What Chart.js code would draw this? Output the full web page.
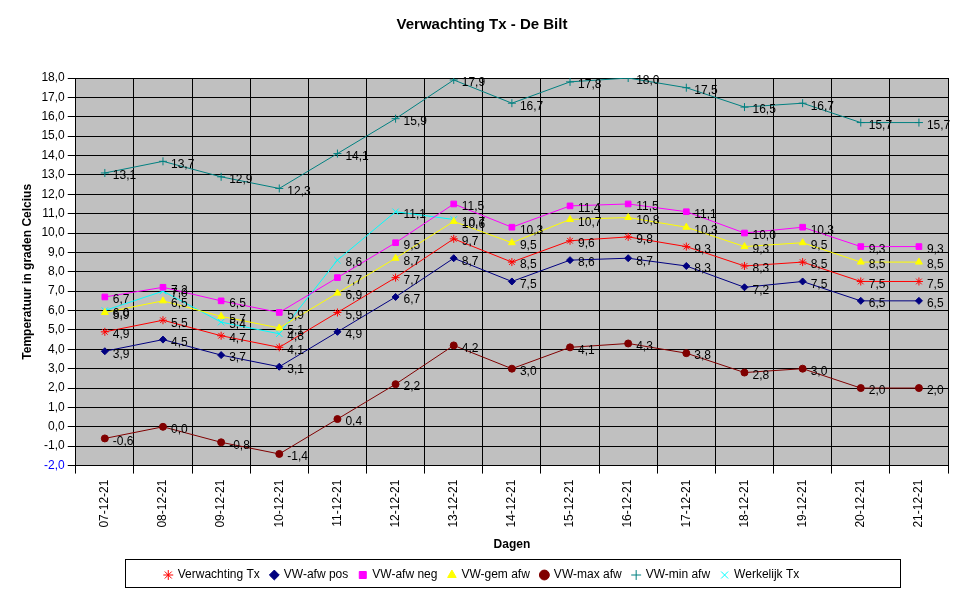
<!DOCTYPE html>
<html><head><meta charset="utf-8">
<script src="https://cdn.jsdelivr.net/npm/chart.js@4"></script>
<style>body{margin:0;background:#fff}#wrap{width:976px;height:599px}</style>
</head><body><div id="wrap"><canvas id="c"></canvas></div>
<script>
const dagen = ["07-12-21","08-12-21","09-12-21","10-12-21","11-12-21","12-12-21","13-12-21","14-12-21","15-12-21","16-12-21","17-12-21","18-12-21","19-12-21","20-12-21","21-12-21"];
const verwachting = [4.9,5.5,4.7,4.1,5.9,7.7,9.7,8.5,9.6,9.8,9.3,8.3,8.5,7.5,7.5];
const afwPos = [3.9,4.5,3.7,3.1,4.9,6.7,8.7,7.5,8.6,8.7,8.3,7.2,7.5,6.5,6.5];
const afwNeg = [6.7,7.2,6.5,5.9,7.7,9.5,11.5,10.3,11.4,11.5,11.1,10.0,10.3,9.3,9.3];
const gemAfw = [5.9,6.5,5.7,5.1,6.9,8.7,10.6,9.5,10.7,10.8,10.3,9.3,9.5,8.5,8.5];
const maxAfw = [-0.6,0.0,-0.8,-1.4,0.4,2.2,4.2,3.0,4.1,4.3,3.8,2.8,3.0,2.0,2.0];
const minAfw = [13.1,13.7,12.9,12.3,14.1,15.9,17.9,16.7,17.8,18.0,17.5,16.5,16.7,15.7,15.7];
const werkelijk = [6.0,7.0,5.4,4.8,8.6,11.1,10.7,null,null,null,null,null,null,null,null];

const fmt = v => v.toFixed(1).replace('.', ',');
const ds = (label, data, color, style, r) => ({label, data, borderColor: color, backgroundColor: color,
  pointStyle: style, pointRadius: r, borderWidth: 1, tension: 0, spanGaps: false});

const labelPlugin = {
  id: 'lbl',
  afterDatasetsDraw(chart) {
    const ctx = chart.ctx;
    ctx.save();
    ctx.font = '12px "Liberation Sans", Arial';
    ctx.fillStyle = '#000';
    ctx.textBaseline = 'middle';
    chart.data.datasets.forEach((d, i) => {
      chart.getDatasetMeta(i).data.forEach((p, j) => {
        if (d.data[j] == null) return;
        ctx.fillText(fmt(d.data[j]), p.x + 8, p.y + 3);
      });
    });
    ctx.restore();
  }
};

Chart.defaults.font.family = '"Liberation Sans", Arial, sans-serif';
Chart.defaults.color = '#000';
new Chart(document.getElementById('c'), {
  type: 'line',
  data: {
    labels: dagen,
    datasets: [
      ds('Verwachting Tx', verwachting, '#ff0000', 'star', 4),
      ds('VW-afw pos', afwPos, '#000080', 'rectRot', 3.5),
      ds('VW-afw neg', afwNeg, '#ff00ff', 'rect', 4),
      ds('VW-gem afw', gemAfw, '#ffff00', 'triangle', 4),
      ds('VW-max afw', maxAfw, '#800000', 'circle', 3.5),
      ds('VW-min afw', minAfw, '#008080', 'cross', 4),
      ds('Werkelijk Tx', werkelijk, '#00ffff', 'crossRot', 4.5)
    ]
  },
  plugins: [labelPlugin, {
    id: 'bg',
    beforeDraw(chart) {
      const a = chart.chartArea, ctx = chart.ctx;
      ctx.save(); ctx.fillStyle = '#c0c0c0';
      ctx.fillRect(a.left, a.top, a.right - a.left, a.bottom - a.top);
      ctx.restore();
    },
    afterDraw(chart) {
      const l = chart.legend, ctx = chart.ctx;
      ctx.save(); ctx.strokeStyle = '#000'; ctx.lineWidth = 1;
      ctx.strokeRect(125.5, l.top + 1.5, 775, l.height - 5);
      ctx.restore();
    }
  }],
  options: {
    responsive: true, maintainAspectRatio: false, animation: false,
    layout: {padding: {left: 16, right: 28, top: 6, bottom: 8}},
    plugins: {
      title: {display: true, text: 'Verwachting Tx - De Bilt', font: {size: 15, weight: 'bold'}, padding: {top: 10, bottom: 44}},
      legend: {position: 'bottom', labels: {usePointStyle: true, boxWidth: 7, boxHeight: 7, font: {size: 12}, padding: 11}},
      tooltip: {enabled: false}
    },
    scales: {
      x: {
        offset: true,
        grid: {color: '#000', offset: true, drawTicks: true},
        border: {color: '#000'},
        ticks: {minRotation: 90, maxRotation: 90, font: {size: 12}, padding: 6},
        title: {display: true, text: 'Dagen', font: {size: 12, weight: 'bold'}, padding: {top: 4, bottom: 6}}
      },
      y: {
        min: -2, max: 18,
        grid: {color: '#000'},
        border: {color: '#000'},
        ticks: {stepSize: 1, font: {size: 12}, callback: v => fmt(v),
          color: c => c.tick.value === -2 ? '#0000ff' : '#000'},
        title: {display: true, text: 'Temperatuur in graden Celcius', font: {size: 12, weight: 'bold'}}
      }
    }
  }
});
</script></body></html>
